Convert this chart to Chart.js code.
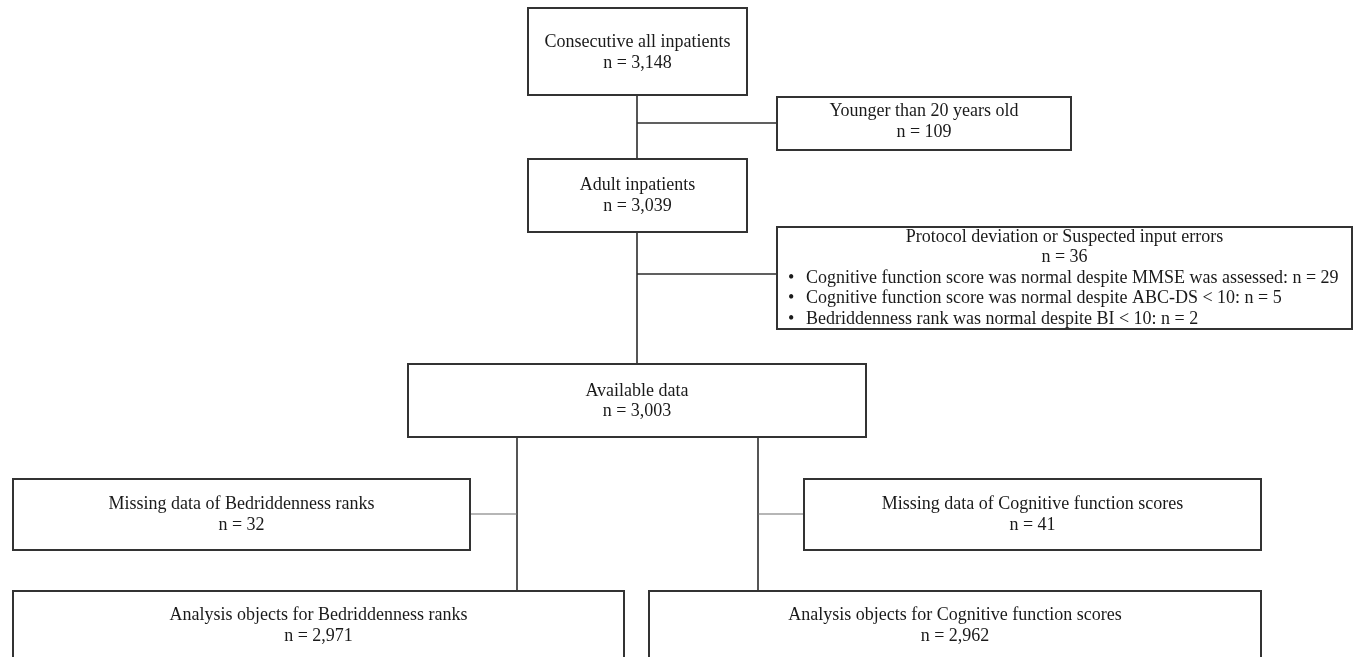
<!DOCTYPE html>
<html>
<head>
<meta charset="utf-8">
<script src="https://cdn.jsdelivr.net/npm/chart.js@4.4.0/dist/chart.umd.min.js"></script>
<style>
    html, body { margin: 0; padding: 0; background: #fff; }
    #wrap { width: 1356px; height: 657px; position: relative; }
</style>
</head>
<body>
<div id="wrap"><canvas id="flowChart"></canvas></div>
<script>
// Flow data (text + counts)
const stageTitles = [
    'Consecutive all inpatients',
    'Younger than 20 years old',
    'Adult inpatients',
    'Protocol deviation or Suspected input errors',
    'Available data',
    'Missing data of Bedriddenness ranks',
    'Missing data of Cognitive function scores',
    'Analysis objects for Bedriddenness ranks',
    'Analysis objects for Cognitive function scores'
];
const stageCounts = ['3,148', '109', '3,039', '36', '3,003', '32', '41', '2,971', '2,962'];
const deviationItems = [
    'Cognitive function score was normal despite MMSE was assessed: n = 29',
    'Cognitive function score was normal despite ABC-DS < 10: n = 5',
    'Bedriddenness rank was normal despite BI < 10: n = 2'
];

// Layout in chart units (x: 0..1356, y: 0..657 top-down)
const boxes = [
    { x0: 528, y0: 8,   x1: 747,  y1: 95,  ty: 53 },
    { x0: 777, y0: 97,  x1: 1071, y1: 150, ty: 122 },
    { x0: 528, y0: 159, x1: 747,  y1: 232, ty: 196 },
    { x0: 777, y0: 227, x1: 1352, y1: 329, ty: 247 },
    { x0: 408, y0: 364, x1: 866,  y1: 437, ty: 401.5 },
    { x0: 13,  y0: 479, x1: 470,  y1: 550, ty: 515 },
    { x0: 804, y0: 479, x1: 1261, y1: 550, ty: 515 },
    { x0: 13,  y0: 591, x1: 624,  y1: 680, ty: 626 },
    { x0: 649, y0: 591, x1: 1261, y1: 680, ty: 626 }
];
const connectors = [
    { pts: [[637, 95], [637, 159]], dark: true },
    { pts: [[637, 123], [777, 123]], dark: true },
    { pts: [[637, 232], [637, 364]], dark: true },
    { pts: [[637, 274], [777, 274]], dark: true },
    { pts: [[517, 437], [517, 591]], dark: true },
    { pts: [[758, 437], [758, 591]], dark: true },
    { pts: [[470, 514], [517, 514]], dark: false },
    { pts: [[758, 514], [804, 514]], dark: false }
];

const FONT = '18px "Liberation Serif", "Times New Roman", serif';
const LINE_H = 20.5;

const flowPlugin = {
    id: 'flowDraw',
    afterDraw: (chart) => {
        const { ctx, scales: { x, y } } = chart;
        const px = v => x.getPixelForValue(v);
        const py = v => y.getPixelForValue(v);

        ctx.save();
        ctx.fillStyle = '#ffffff';
        ctx.fillRect(0, 0, chart.width, chart.height);

        // connectors
        connectors.forEach(c => {
            ctx.beginPath();
            ctx.strokeStyle = c.dark ? '#2b2b2b' : '#6e6e6e';
            ctx.lineWidth = c.dark ? 1.6 : 1.2;
            c.pts.forEach((p, i) => {
                if (i === 0) ctx.moveTo(px(p[0]), py(p[1]));
                else ctx.lineTo(px(p[0]), py(p[1]));
            });
            ctx.stroke();
        });

        // boxes
        boxes.forEach(b => {
            const l = px(b.x0), r = px(b.x1), t = py(b.y0), btm = py(b.y1);
            ctx.fillStyle = '#ffffff';
            ctx.fillRect(l, t, r - l, btm - t);
            ctx.strokeStyle = '#333333';
            ctx.lineWidth = 2;
            ctx.strokeRect(l, t, r - l, btm - t);
        });

        // texts
        ctx.font = FONT;
        ctx.fillStyle = '#1a1a1a';
        ctx.textBaseline = 'middle';
        stageTitles.forEach((title, i) => {
            const b = boxes[i];
            const cx = px((b.x0 + b.x1) / 2);
            ctx.textAlign = 'center';
            if (i === 3) {
                ctx.fillText(title, cx, py(b.ty - 10));
                ctx.fillText('n = ' + stageCounts[i], cx, py(b.ty + 10.5));
                ctx.textAlign = 'left';
                deviationItems.forEach((item, k) => {
                    const yy = py(b.ty + 31 + k * LINE_H);
                    ctx.fillText('\u2022', px(788), yy);
                    ctx.fillText(item, px(806), yy);
                });
            } else {
                ctx.fillText(title, cx, py(b.ty - LINE_H / 2));
                ctx.fillText('n = ' + stageCounts[i], cx, py(b.ty + LINE_H / 2));
            }
        });
        ctx.restore();
    }
};

new Chart(document.getElementById('flowChart').getContext('2d'), {
    type: 'scatter',
    plugins: [flowPlugin],
    data: { datasets: [] },
    options: {
        responsive: true,
        maintainAspectRatio: false,
        animation: false,
        layout: { padding: 0 },
        plugins: { legend: { display: false }, tooltip: { enabled: false } },
        scales: {
            x: { type: 'linear', min: 0, max: 1356, display: false },
            y: { type: 'linear', min: 0, max: 657, reverse: true, display: false }
        }
    }
});
</script>
</body>
</html>
